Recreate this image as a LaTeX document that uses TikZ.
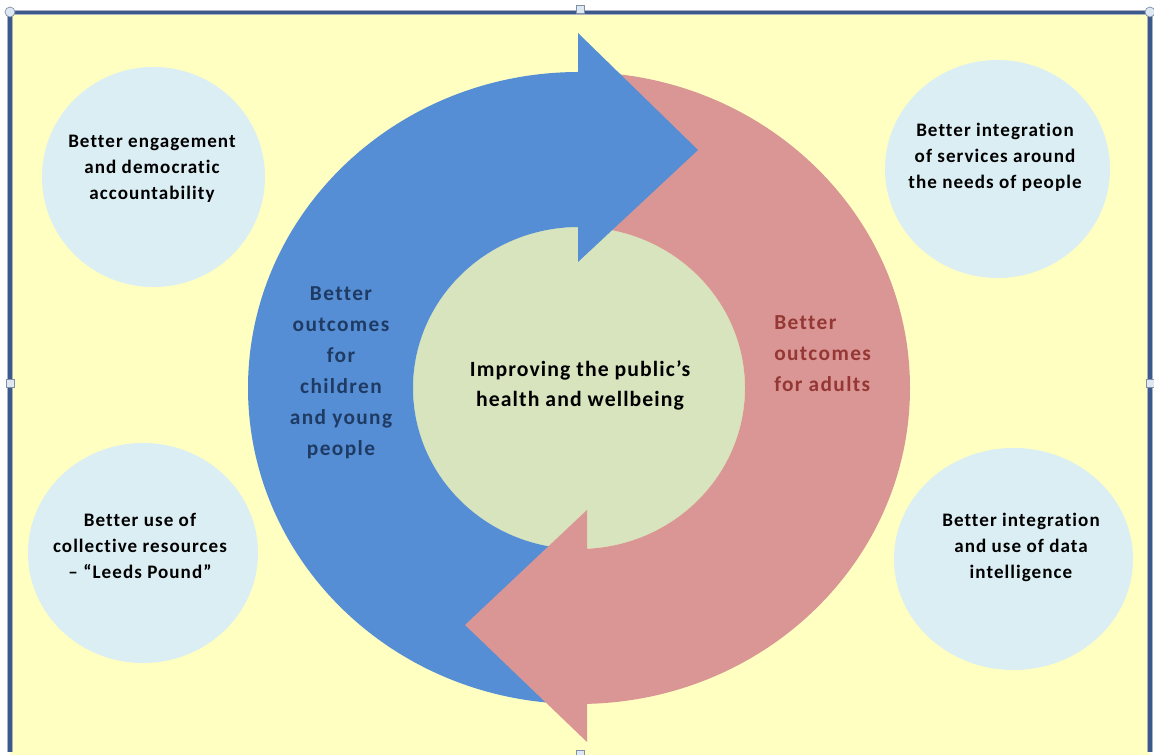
\documentclass[tikz,border=0pt]{standalone}
\usepackage{fontspec}
\setmainfont{Carlito}
\newfontfamily\bubblefont{Carlito}[LetterSpace=5.5, Ligatures=NoCommon]
\newfontfamily\hubfont{Carlito}[LetterSpace=5, Ligatures=NoCommon]
\newfontfamily\ringfont{Carlito}[LetterSpace=6.5, Ligatures=NoCommon]
\usetikzlibrary{shapes.geometric}

\definecolor{paper}{RGB}{255,255,193}
\definecolor{frameblue}{RGB}{59,89,140}
\definecolor{framegrey}{RGB}{170,178,192}
\definecolor{bubblefill}{RGB}{219,238,244}
\definecolor{hubfill}{RGB}{215,228,189}
\definecolor{ringblue}{RGB}{85,142,213}
\definecolor{ringpink}{RGB}{217,150,148}
\definecolor{navytext}{RGB}{31,59,99}
\definecolor{adulttext}{RGB}{149,55,53}
\definecolor{handlefill}{RGB}{222,232,242}
\definecolor{handleline}{RGB}{128,144,166}

\begin{document}
\begin{tikzpicture}[x=0.75pt,y=0.75pt,
  bubble/.style={ellipse, fill=bubblefill, inner sep=0pt},
  bubbletext/.style={font=\bubblefont\bfseries\fontsize{14.3}{19.7}\selectfont,
    align=center, anchor=base, inner sep=0pt},
  hubtext/.style={font=\hubfont\bfseries\fontsize{16.3}{22.5}\selectfont,
    align=center, anchor=base, inner sep=0pt},
  ringtext/.style={font=\ringfont\bfseries\fontsize{16}{23.3}\selectfont,
    inner sep=0pt},
  handle/.style={fill=handlefill, draw=handleline, line width=0.5pt}]

\useasboundingbox (0,0) rectangle (1154,755);
\fill[white] (0,0) rectangle (1154,755);
\fill[paper] (10,0) rectangle (1150,742.5);

% outer frame (open at the bottom)
\draw[framegrey, line width=3.8pt] (10,3) -- (10,742.5) -- (1150,742.5) -- (1150,3);
\draw[frameblue, line width=2.3pt] (10,3) -- (10,742.5) -- (1150,742.5) -- (1150,3);

% four corner bubbles
\node[bubble, minimum width=167.25pt, minimum height=165pt] (tl) at (153.5,578) {};
\node[bubble, minimum width=168.75pt, minimum height=163.5pt] (tr) at (997.5,586) {};
\node[bubble, minimum width=172.5pt, minimum height=165pt] (bl) at (143,202) {};
\node[bubble, minimum width=179.25pt, minimum height=166.5pt] (br) at (1013.5,196) {};

% central hub
\node[ellipse, fill=hubfill, inner sep=0pt, minimum width=249pt, minimum height=241.5pt] (hub) at (579,367) {};

% ring bodies
\fill[ringpink] (579,683) arc[start angle=90, end angle=-88.6, x radius=331, y radius=316]
  -- (587,206.2) arc[start angle=-87.24, end angle=90, x radius=166, y radius=161] -- cycle;
\fill[ringblue] (579,51) arc[start angle=270, end angle=90, x radius=331, y radius=316]
  -- (579,528) arc[start angle=90, end angle=270, x radius=166, y radius=161] -- cycle;

% arrow heads
\fill[ringblue] (578,722) -- (698,605) -- (578,493) -- cycle;
\fill[ringpink] (587,13) -- (465,130) -- (587,245) -- cycle;

% texts (anchored on the baseline of their last line)
\node[bubbletext] (engage) at (152,555) {Better engagement\\and democratic\\accountability};
\node[bubbletext] (integrate) at (995,566) {Better integration\\of services around\\the needs of people};
\node[bubbletext] (pound) at (140,176) {Better use of\\collective resources\\– “Leeds Pound”};
\node[bubbletext] (data) at (1021,176) {Better integration\\and use of data\\intelligence};
\node[hubtext] (health) at (580,348) {Improving the public’s\\health and wellbeing};
\node[ringtext, navytext, align=center, anchor=base] (children) at (341,299)
  {Better\\outcomes\\for\\children\\and young\\people};
\node[ringtext, adulttext, align=left, anchor=base west] (adults) at (774,363)
  {Better\\outcomes\\for adults};

% selection handles
\filldraw[handle] (10,743) circle[radius=5];
\filldraw[handle] (1150,743) circle[radius=5];
\filldraw[handle] (576,741.5) rectangle (584,749.5);
\filldraw[handle] (6,368) rectangle (14,376);
\filldraw[handle] (1146,368) rectangle (1154,376);
\filldraw[handle] (576,-2) rectangle (584,5);
\end{tikzpicture}
\end{document}
